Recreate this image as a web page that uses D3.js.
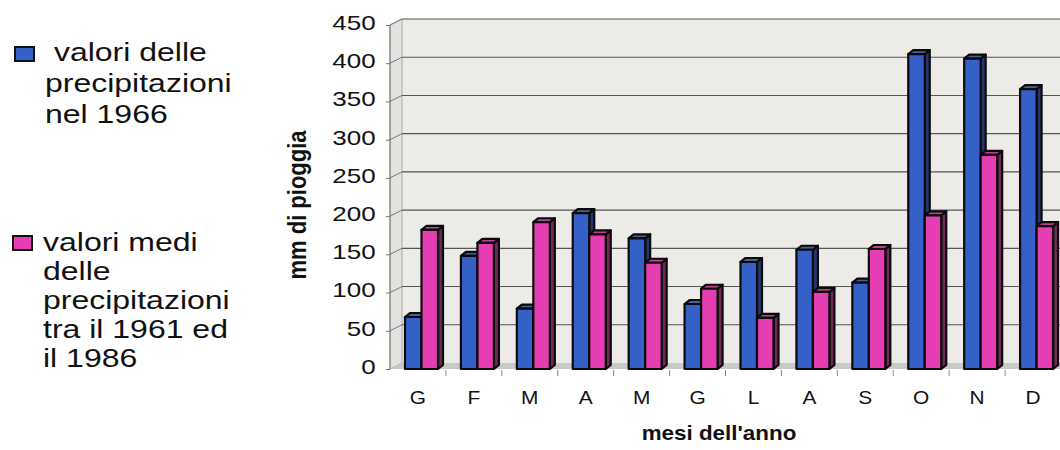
<!DOCTYPE html>
<html lang="it">
  <head>
    <meta charset="UTF-8">
    <title>Precipitazioni 1966</title>
    <style>
      body { margin: 0; background: #fff; }
      svg text { font-family: "Liberation Sans", Arial, sans-serif; fill: #111; }
      .axis-y path, .axis-x path { display: none; }
      .axis-y .tick line { stroke: #777; }
    </style>
    <script src="https://d3js.org/d3.v7.min.js"></script>
  </head>
  <body>
    <script>
      // data
      const months = ["G", "F", "M", "A", "M", "G", "L", "A", "S", "O", "N", "D"];
      const rain1966 = [68, 148, 79, 204, 171, 85, 140, 156, 113, 412, 406, 366];
      const rainAvg = [182, 165, 192, 176, 139, 105, 67, 101, 157, 201, 280, 187];
      const yTicks = [0, 50, 100, 150, 200, 250, 300, 350, 400, 450];
      const legendBlue = [" valori delle", "precipitazioni", "nel 1966"];
      const legendPink = ["valori medi", "delle", "precipitazioni", "tra il 1961 ed", "il 1986"];

      const width = 1060, height = 450;
      const wallDx = 12, wallDy = -6;   // depth of the back wall
      const barDx = 5, barDy = -4;      // depth of each column
      const barW = 16.5;

      const svg = d3.select("body").append("svg")
        .attr("width", width)
        .attr("height", height);

      const x = d3.scaleBand().domain(d3.range(months.length)).range([390, 1061]);
      const y = d3.scaleLinear().domain([0, 450]).range([369, 25]);

      const x0 = 390, x1 = 1062;
      const yTop = y(450), yBase = y(0);

      // back wall
      svg.append("polygon")
        .attr("points", [[x0 + wallDx, yTop + wallDy], [x1, yTop + wallDy], [x1, yBase + wallDy], [x0 + wallDx, yBase + wallDy]].join(" "))
        .attr("fill", "#ecebe8");

      // side wall
      svg.append("polygon")
        .attr("points", [[x0, yTop], [x0 + wallDx, yTop + wallDy], [x0 + wallDx, yBase + wallDy], [x0, yBase]].join(" "))
        .attr("fill", "#e3e2de")
        .attr("stroke", "#999")
        .attr("stroke-width", 0.8);

      // floor
      svg.append("polygon")
        .attr("points", [[x0, yBase], [x0 + wallDx, yBase + wallDy], [x1, yBase + wallDy], [x1, yBase]].join(" "))
        .attr("fill", "#c8cbc2");

      // gridlines
      const grid = svg.append("g");
      yTicks.filter(v => v > 0).forEach(v => {
        grid.append("line")
          .attr("x1", x0 + wallDx).attr("x2", x1)
          .attr("y1", y(v) + wallDy).attr("y2", y(v) + wallDy)
          .attr("stroke", "#555").attr("stroke-width", 1.1);
        grid.append("line")
          .attr("x1", x0).attr("x2", x0 + wallDx)
          .attr("y1", y(v)).attr("y2", y(v) + wallDy)
          .attr("stroke", "#777").attr("stroke-width", 1);
      });

      // y axis
      const yAxis = svg.append("g")
        .attr("class", "axis-y")
        .attr("transform", `translate(${x0},0)`)
        .call(d3.axisLeft(y).tickValues(yTicks).tickSize(4).tickPadding(7));
      yAxis.append("line")
        .attr("x1", 0).attr("x2", 0).attr("y1", yTop).attr("y2", yBase)
        .attr("stroke", "#777");
      yAxis.selectAll(".tick text")
        .attr("y", -2)
        .attr("transform", "scale(1.3,1)")
        .style("font-size", "20px")
        .attr("fill", "#111");

      // x axis labels and boundary ticks
      const xAxis = svg.append("g")
        .attr("class", "axis-x")
        .attr("transform", `translate(0,${yBase + 2})`)
        .call(d3.axisBottom(x).tickFormat(i => months[i]).tickSize(0).tickPadding(20));
      xAxis.selectAll(".tick text")
        .attr("transform", "scale(1.1,1)")
        .style("font-size", "19px")
        .attr("fill", "#111");
      d3.range(1, months.length).forEach(i => {
        svg.append("line")
          .attr("x1", x(i)).attr("x2", x(i))
          .attr("y1", yBase + 1).attr("y2", yBase + 7)
          .attr("stroke", "#888");
      });

      // 3d columns
      function column(g, left, v, front, top, side) {
        const yt = y(v);
        g.append("polygon")
          .attr("points", [[left + barW, yt], [left + barW + barDx, yt + barDy], [left + barW + barDx, yBase + barDy], [left + barW, yBase]].join(" "))
          .attr("fill", side);
        g.append("polygon")
          .attr("points", [[left, yt], [left + barDx, yt + barDy], [left + barW + barDx, yt + barDy], [left + barW, yt]].join(" "))
          .attr("fill", top);
        g.append("rect")
          .attr("x", left).attr("y", yt)
          .attr("width", barW).attr("height", yBase - yt)
          .attr("fill", front);
        g.selectAll("*")
          .attr("stroke", "#0b0b0b")
          .attr("stroke-width", 2.2)
          .attr("stroke-linejoin", "round");
      }

      const bars = svg.append("g");
      months.forEach((m, i) => {
        const g = bars.append("g");
        column(g, x(i) + 15, rain1966[i], "#3460c8", "#4a5f9c", "#27366e");
        column(g, x(i) + 15 + barW, rainAvg[i], "#e53db2", "#b8438f", "#6e2a58");
      });

      // axis titles
      svg.append("text")
        .attr("transform", "translate(297,205) rotate(-90) scale(1,1.2)")
        .attr("text-anchor", "middle")
        .attr("dy", "0.35em")
        .style("font-size", "22px")
        .style("font-weight", "bold")
        .text("mm di pioggia");

      svg.append("text")
        .attr("transform", "translate(719,440) scale(1.12,1)")
        .attr("text-anchor", "middle")
        .style("font-size", "20px")
        .style("font-weight", "bold")
        .text("mesi dell'anno");

      // legend
      function legendBlock(lines, sqX, sqY, color, textX, firstBase, lineH) {
        svg.append("rect")
          .attr("x", sqX).attr("y", sqY)
          .attr("width", 19).attr("height", 14)
          .attr("fill", color)
          .attr("stroke", "#111")
          .attr("stroke-width", 2);
        lines.forEach((t, k) => {
          svg.append("text")
            .attr("transform", `translate(${textX},${firstBase + k * lineH}) scale(1.28,1)`)
            .attr("xml:space", "preserve")
            .style("white-space", "pre")
            .style("font-size", "25px")
            .text(t);
        });
      }
      legendBlock(legendBlue, 15, 47, "#3460c8", 45, 61, 31);
      legendBlock(legendPink, 13, 236, "#e53db2", 43, 251, 29);
    </script>
  </body>
</html>
